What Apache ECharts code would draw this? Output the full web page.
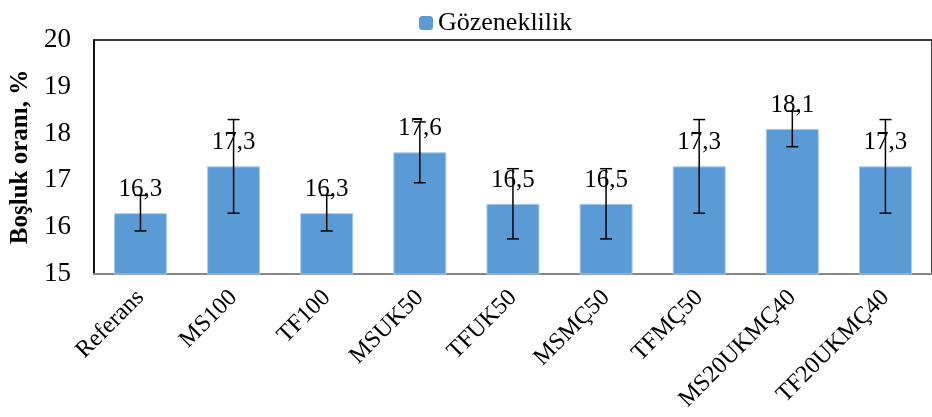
<!DOCTYPE html>
<html>
<head>
<meta charset="utf-8">
<script src="https://cdn.jsdelivr.net/npm/echarts@6/dist/echarts.min.js"></script>
<style>
  html, body { margin: 0; padding: 0; background: #fff; }
  #chart { width: 932px; height: 417px; }
</style>
</head>
<body>
<div id="chart"></div>
<script>
// Mix designs
const categories = ['Referans', 'MS100', 'TF100', 'MSUK50', 'TFUK50', 'MSMÇ50', 'TFMÇ50', 'MS20UKMÇ40', 'TF20UKMÇ40'];
// Porosity (void ratio), %
const porosity = [16.3, 17.3, 16.3, 17.6, 16.5, 16.5, 17.3, 18.1, 17.3];
// Standard deviation shown as error bars
const errorAmount = [0.38, 1.0, 0.38, 0.65, 0.75, 0.75, 1.0, 0.38, 1.0];
// Y axis ticks
const yTicks = [15, 16, 17, 18, 19, 20];

const serif = "'Liberation Serif', 'Times New Roman', serif";

const errorData = porosity.map((v, i) => [i, v - errorAmount[i], v + errorAmount[i]]);

const chart = echarts.init(document.getElementById('chart'), null, { renderer: 'canvas' });

chart.setOption({
  animation: false,
  textStyle: { fontFamily: serif },
  legend: {
    data: ['Gözeneklilik'],
    left: 414,
    top: 5,
    itemWidth: 14,
    itemHeight: 14,
    itemGap: 5,
    itemStyle: { borderWidth: 0 },
    textStyle: { fontFamily: serif, fontSize: 26, color: '#000' }
  },
  grid: {
    left: 93,
    top: 40,
    bottom: 143,
    right: -10,
    show: true,
    borderColor: '#000',
    borderWidth: 1.5,
    containLabel: false
  },
  xAxis: {
    type: 'category',
    data: categories,
    axisLine: { lineStyle: { color: '#868686', width: 2 } },
    axisTick: { show: false },
    axisLabel: {
      rotate: 45,
      interval: 0,
      margin: 20,
      fontFamily: serif,
      fontSize: 24,
      color: '#000'
    }
  },
  yAxis: {
    type: 'value',
    min: yTicks[0],
    max: yTicks[yTicks.length - 1],
    interval: 1,
    name: 'Boşluk oranı, %',
    nameLocation: 'middle',
    nameGap: 58,
    nameTextStyle: { fontFamily: serif, fontSize: 25, fontWeight: 'bold', color: '#000' },
    axisLine: { show: true, lineStyle: { color: '#000', width: 1.5 } },
    axisTick: { show: false },
    splitLine: { show: false },
    axisLabel: { fontFamily: serif, fontSize: 27, color: '#000', margin: 23 }
  },
  series: [
    {
      name: 'Gözeneklilik',
      type: 'bar',
      data: porosity,
      barWidth: 53,
      itemStyle: { color: '#5B9BD5', borderColor: '#A9CBEB', borderWidth: 1 },
      z: 2,
      label: {
        show: true,
        position: 'top',
        distance: 11,
        fontFamily: serif,
        fontSize: 25,
        color: '#000',
        formatter: p => p.value.toFixed(1).replace('.', ',')
      }
    },
    {
      name: 'error',
      type: 'custom',
      data: errorData,
      z: 5,
      silent: true,
      renderItem: function (params, api) {
        const idx = api.value(0);
        const lo = api.coord([idx, api.value(1)]);
        const hi = api.coord([idx, api.value(2)]);
        const half = 6;
        const style = { stroke: '#000', lineWidth: 1.5 };
        return {
          type: 'group',
          children: [
            { type: 'line', shape: { x1: hi[0], y1: hi[1], x2: lo[0], y2: lo[1] }, style },
            { type: 'line', shape: { x1: hi[0] - half, y1: hi[1], x2: hi[0] + half, y2: hi[1] }, style },
            { type: 'line', shape: { x1: lo[0] - half, y1: lo[1], x2: lo[0] + half, y2: lo[1] }, style }
          ]
        };
      }
    }
  ]
});
</script>
</body>
</html>
